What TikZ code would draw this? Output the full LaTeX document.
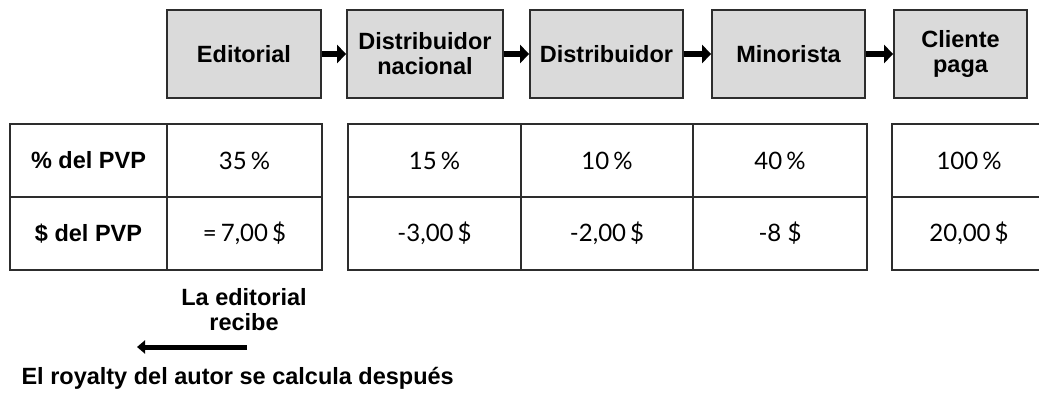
\documentclass[tikz,border=0pt]{standalone}
\usepackage{fontspec}
\setmainfont{Lato}
\newfontfamily\headsans{Liberation Sans}
\usetikzlibrary{arrows.meta}
\definecolor{boxgray}{RGB}{218,218,218}
\definecolor{linegray}{RGB}{45,45,45}

\begin{document}
\begin{tikzpicture}[x=1pt, y=-1pt,
    stage/.style={draw=linegray, line width=1.8pt, fill=boxgray, minimum height=88pt,
      inner sep=0pt, align=center, font=\headsans\bfseries\fontsize{23.5}{25}\selectfont},
    flow/.style={line width=6pt, -{Triangle[length=9pt, width=18pt]}},
    grid line/.style={linegray, line width=1.6pt},
    row label/.style={font=\headsans\bfseries\fontsize{23.5}{25}\selectfont},
    cell/.style={font=\fontsize{24}{26}\selectfont},
    note/.style={font=\headsans\bfseries\fontsize{23.5}{25}\selectfont, align=center}]

  \useasboundingbox (0,0) rectangle (1039,396);

  % ===== Chain of stages =====
  \node[stage, minimum width=154pt] (edit) at (244,54) {Editorial};
  \node[stage, minimum width=156pt] (dnac) at (425,54) {Distribuidor\\nacional};
  \node[stage, minimum width=153pt] (dist) at (606.5,54) {Distribuidor};
  \node[stage, minimum width=153pt] (mino) at (788.5,54) {Minorista};
  \node[stage, minimum width=133pt] (clie) at (960.5,54) {Cliente\\paga};

  \draw[flow] (edit) -- (dnac);
  \draw[flow] (dnac) -- (dist);
  \draw[flow] (dist) -- (mino);
  \draw[flow] (mino) -- (clie);

  % ===== Table, left block =====
  \draw[grid line] (10,124) rectangle (322,270);
  \draw[grid line] (10,197) -- (322,197);
  \draw[grid line] (167,124) -- (167,270);

  % ===== Table, middle block =====
  \draw[grid line] (348,124) rectangle (867,270);
  \draw[grid line] (348,197) -- (867,197);
  \draw[grid line] (521,124) -- (521,270);
  \draw[grid line] (693,124) -- (693,270);

  % ===== Table, right block (cut at the edge) =====
  \draw[grid line] (1045,124) -- (892,124) -- (892,270) -- (1045,270);
  \draw[grid line] (892,197) -- (1045,197);

  % row of shares
  \node[row label] (pctlabel) at (88.5,160.5) {\%\ del PVP};
  \node[cell] (pctedit) at (244.5,160.5) {35\,\%};
  \node[cell] (pctdnac) at (434.5,160.5) {15\,\%};
  \node[cell] (pctdist) at (607,160.5) {10\,\%};
  \node[cell] (pctmino) at (780,160.5) {40\,\%};
  \node[cell] (pctclie) at (969,160.5) {100\,\%};

  % row of amounts
  \node[row label] (amtlabel) at (88.5,233.5) {\$ del PVP};
  \node[cell] (amtedit) at (244.5,233.5) {=\,7,00\,\$};
  \node[cell] (amtdnac) at (434.5,233.5) {-3,00\,\$};
  \node[cell] (amtdist) at (607,233.5) {-2,00\,\$};
  \node[cell] (amtmino) at (780,233.5) {-8 \$};
  \node[cell] (amtclie) at (969,233.5) {20,00\,\$};

  % ===== Notes below =====
  \node[note] (recibe) at (244,310) {La editorial\\recibe};
  \coordinate (back start) at (247,347);
  \coordinate (back end) at (137,347);
  \draw[line width=5pt, -{Triangle[length=8pt, width=13pt]}] (back start) -- (back end);
  \node[note, anchor=west] (royalty) at (18,378) {El royalty del autor se calcula después};

\end{tikzpicture}
\end{document}
